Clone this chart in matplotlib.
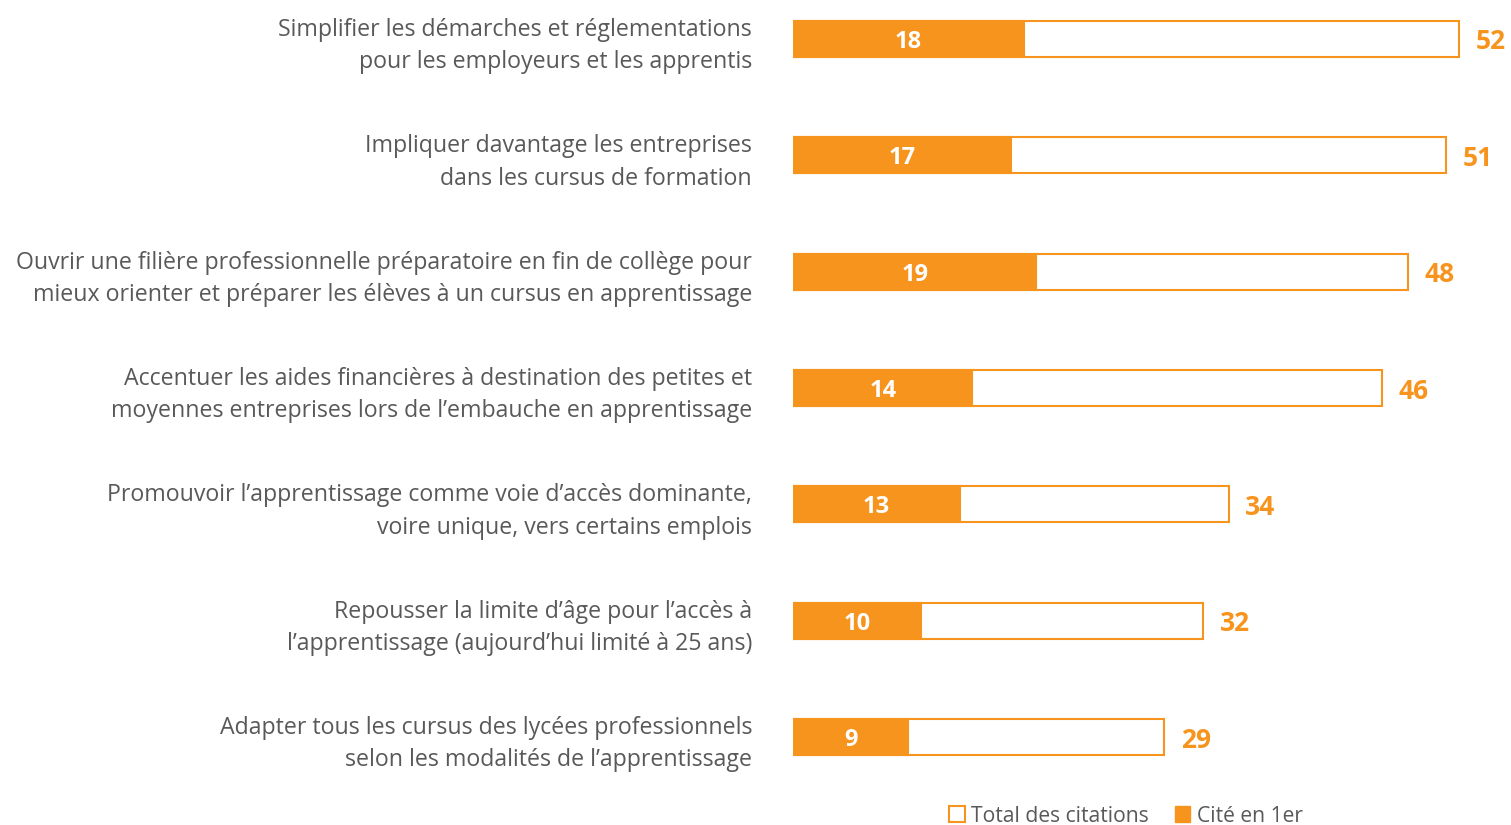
import matplotlib.pyplot as plt
from matplotlib.patches import Patch

plt.rcParams['font.family'] = ['Open Sans', 'DejaVu Sans']

labels = [
    "Simplifier les démarches et réglementations\npour les employeurs et les apprentis",
    "Impliquer davantage les entreprises\ndans les cursus de formation",
    "Ouvrir une filière professionnelle préparatoire en fin de collège pour\nmieux orienter et préparer les élèves à un cursus en apprentissage",
    "Accentuer les aides financières à destination des petites et\nmoyennes entreprises lors de l\u2019embauche en apprentissage",
    "Promouvoir l\u2019apprentissage comme voie d\u2019accès dominante,\nvoire unique, vers certains emplois",
    "Repousser la limite d\u2019âge pour l\u2019accès à\nl\u2019apprentissage (aujourd\u2019hui limité à 25 ans)",
    "Adapter tous les cursus des lycées professionnels\nselon les modalités de l\u2019apprentissage",
]
total = [52, 51, 48, 46, 34, 32, 29]
first = [18, 17, 19, 14, 13, 10, 9]

orange = '#F7941D'
grey = '#595959'

W, H = 1511, 825
fig = plt.figure(figsize=(W / 100, H / 100), dpi=100)
ax = fig.add_axes([793 / W, 0, 718 / W, 1])

y = list(range(len(labels)))
ax.barh(y, total, height=0.31, color='white', edgecolor=orange, linewidth=1.5)
ax.barh(y, first, height=0.31, color=orange, edgecolor=orange, linewidth=1.5)

for i in y:
    ax.text(first[i] / 2, i, str(first[i]), color='white', fontsize=17,
            fontweight='bold', ha='center', va='center_baseline')
    ax.text(total[i] + 1.3, i, str(total[i]), color=orange, fontsize=19,
            fontweight='bold', ha='left', va='center_baseline')

ax.set_xlim(0, 718 / 12.81)
ax.set_ylim(6.756, -0.335)
ax.set_yticks(y)
ax.set_yticklabels(labels, fontsize=16.7, color=grey, linespacing=1.46)
ax.tick_params(axis='y', length=0, pad=29.5)
ax.set_xticks([])
for s in ax.spines.values():
    s.set_visible(False)

handles = [Patch(facecolor='white', edgecolor=orange, linewidth=1.5, label='Total des citations'),
           Patch(facecolor=orange, edgecolor=orange, label='Cité en 1er')]
fig.legend(handles=handles, loc='center', bbox_to_anchor=(1126 / W, 1 - 816 / H),
           ncol=2, frameon=False, fontsize=15.2, labelcolor=grey,
           handlelength=0.75, handleheight=0.75, handletextpad=0.3, columnspacing=1.2)

fig.savefig('out.png', dpi=100)
